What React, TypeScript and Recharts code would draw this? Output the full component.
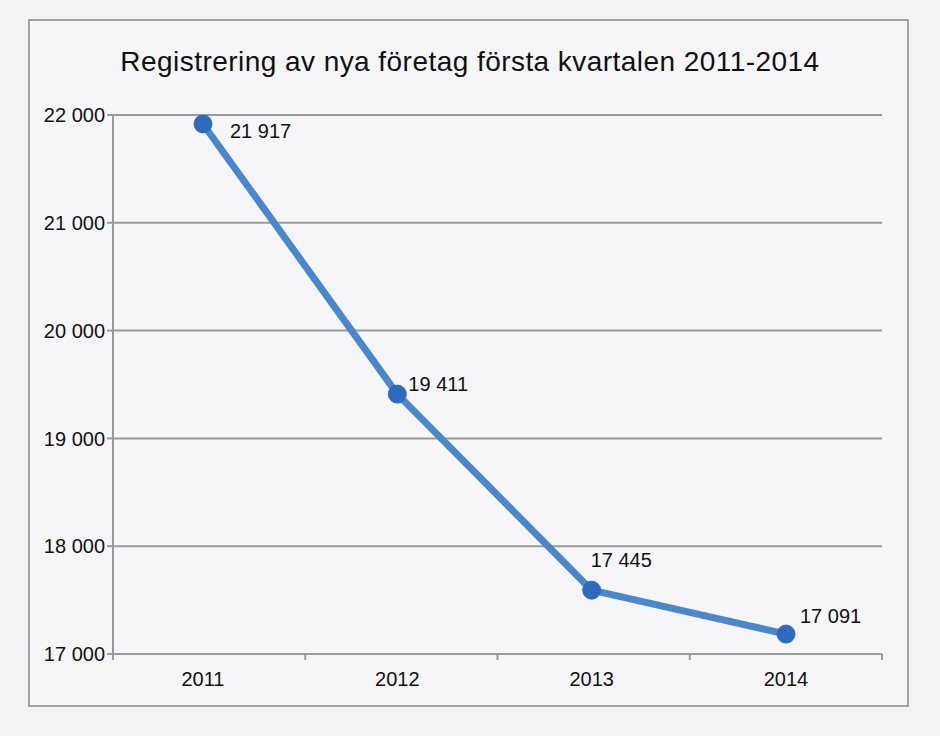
import { LineChart, Line, XAxis, YAxis, CartesianGrid, LabelList } from "recharts";

const years = ["2011", "2012", "2013", "2014"];
// where the markers sit on the value axis
const plotted = [21917, 19411, 17592, 17185];
// the numbers printed next to the markers
const printed = ["21 917", "19 411", "17 445", "17 091"];
const yTicks = [17000, 18000, 19000, 20000, 21000, 22000];
const title = "Registrering av nya företag första kvartalen 2011-2014";

const data = years.map((year, i) => ({ year, value: plotted[i], label: printed[i] }));

const FONT = '"Liberation Sans", Arial, Helvetica, sans-serif';
const GREY = "#9a9a9a";
const LINE = "#4a87cb";
const DOT = "#2d6cbd";

const W = 940;
const H = 736;
const PLOT_LEFT = 113;
const PLOT_RIGHT = 882;
const PLOT_TOP = 115;
const PLOT_BOTTOM = 654;
const PLOT_W = PLOT_RIGHT - PLOT_LEFT;

// per-point nudge for the value labels
const LABEL_NUDGE = [
  { dx: 27, dy: 7 },
  { dx: 11, dy: -10 },
  { dx: -1, dy: -30 },
  { dx: 14, dy: -18 },
];

const formatThousands = (v: number) =>
  String(v).replace(/\B(?=(\d{3})+(?!\d))/g, " ");

function YearTick(props: any) {
  const { x, y, payload, index } = props;
  const bw = PLOT_W / years.length;
  const mark = PLOT_LEFT + index * bw;
  return (
    <g>
      <line x1={mark} x2={mark} y1={y} y2={y + 6} stroke={GREY} strokeWidth={2} />
      {index === years.length - 1 && (
        <line x1={PLOT_RIGHT} x2={PLOT_RIGHT} y1={y} y2={y + 6} stroke={GREY} strokeWidth={2} />
      )}
      <text
        x={x}
        y={y + 18}
        dy="0.71em"
        textAnchor="middle"
        fontSize={20}
        fontFamily={FONT}
        fill="#111"
      >
        {payload.value}
      </text>
    </g>
  );
}

function ValueLabel(props: any) {
  const { x, y, index } = props;
  const n = LABEL_NUDGE[index] || { dx: 12, dy: -12 };
  return (
    <text
      x={x + n.dx}
      y={y + n.dy}
      dominantBaseline="central"
      textAnchor="start"
      fontSize={20}
      fontFamily={FONT}
      fill="#111"
    >
      {printed[index]}
    </text>
  );
}

export default function App() {
  return (
    <div
      style={{
        position: "absolute",
        left: 0,
        top: 0,
        width: W,
        height: H,
        background: "#f3f3f5",
        overflow: "hidden",
        fontFamily: FONT,
      }}
    >
      <div
        style={{
          position: "absolute",
          left: 28,
          top: 19,
          width: 881,
          height: 688,
          boxSizing: "border-box",
          border: "2px solid #a3a3a3",
          background: "#f6f6f8",
        }}
      />
      <div
        style={{
          position: "absolute",
          left: 0,
          top: 47,
          width: W,
          textAlign: "center",
          fontSize: 28,
          letterSpacing: 0.45,
          lineHeight: "30px",
          color: "#111",
        }}
      >
        {title}
      </div>
      <div style={{ position: "absolute", left: 0, top: 0 }}>
        <LineChart
          width={W}
          height={H}
          data={data}
          margin={{ top: PLOT_TOP, right: W - PLOT_RIGHT, bottom: 42, left: 0 }}
        >
          <CartesianGrid vertical={false} stroke={GREY} strokeWidth={2} />
          <XAxis
            dataKey="year"
            scale="point"
            padding={{ left: 90, right: 96 }}
            height={H - PLOT_BOTTOM - 42}
            axisLine={{ stroke: GREY, strokeWidth: 2 }}
            tickLine={false}
            tickSize={0}
            tickMargin={0}
            tick={<YearTick />}
            interval={0}
          />
          <YAxis
            width={PLOT_LEFT}
            domain={[17000, 22000]}
            ticks={yTicks}
            allowDataOverflow
            tickFormatter={formatThousands}
            axisLine={{ stroke: GREY, strokeWidth: 2 }}
            tickLine={{ stroke: GREY, strokeWidth: 2 }}
            tickSize={6}
            tickMargin={2}
            tick={{ fontSize: 20, fontFamily: FONT, fill: "#111" }}
          />
          <Line
            type="linear"
            dataKey="value"
            stroke={LINE}
            strokeWidth={7}
            strokeLinejoin="round"
            dot={{ r: 9, fill: DOT, stroke: DOT, strokeWidth: 1 }}
            activeDot={false}
            isAnimationActive={false}
          >
            <LabelList dataKey="label" content={<ValueLabel />} />
          </Line>
        </LineChart>
      </div>
    </div>
  );
}
